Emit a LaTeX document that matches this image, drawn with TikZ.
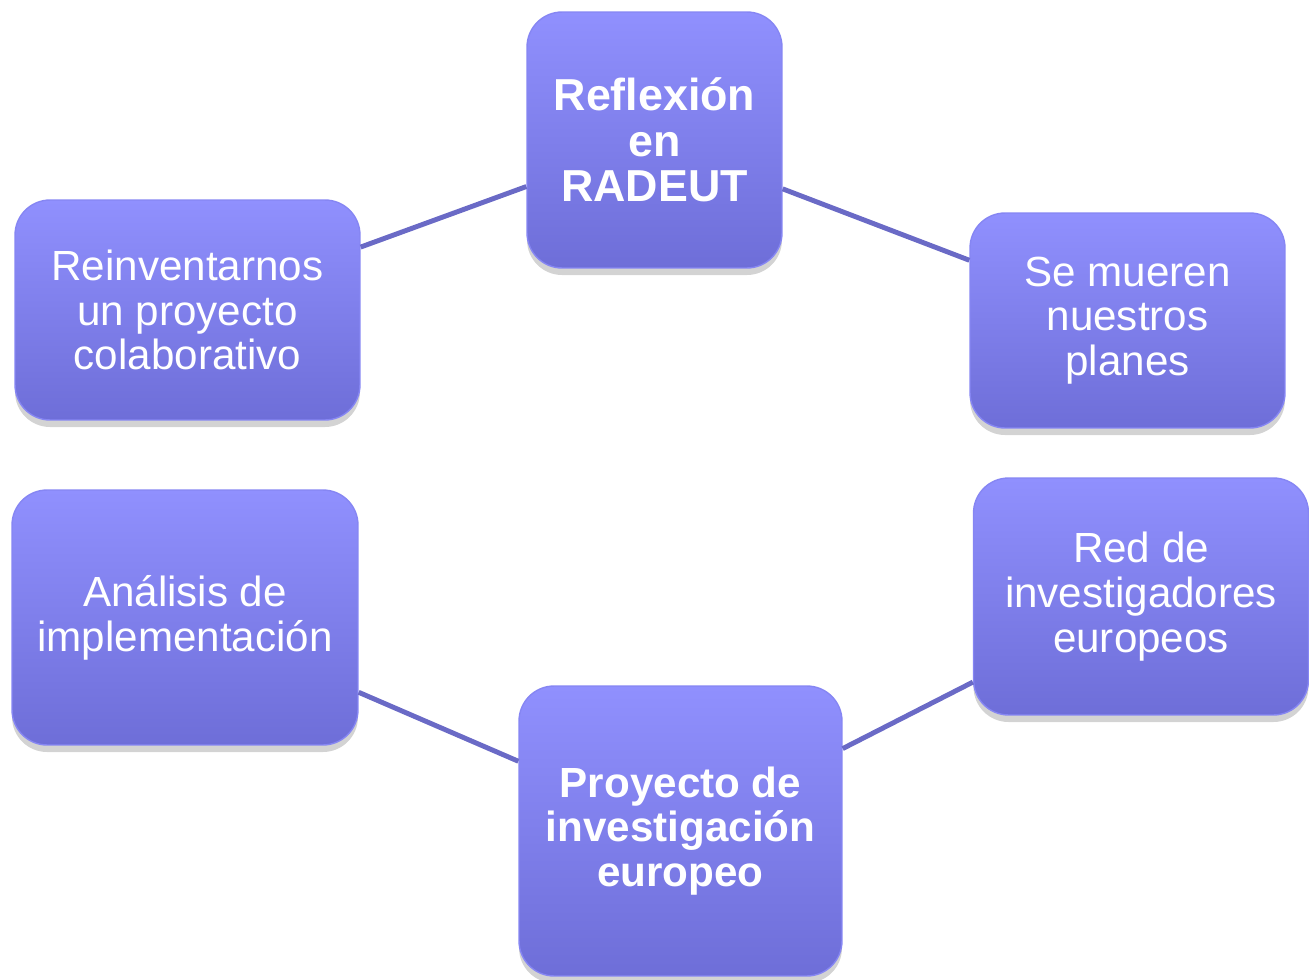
\documentclass[tikz,border=0pt]{standalone}
\usepackage{fontspec}
\setmainfont{Liberation Sans}
\usepackage{tikz}
\usetikzlibrary{shapes,positioning,shadows}

\definecolor{blocktop}{HTML}{9090FE}
\definecolor{blockbot}{HTML}{6E6ED8}
\definecolor{linkline}{HTML}{6A6AC6}

\tikzset{
    block/.style={
        rounded corners=0.7cm,
        top color=blocktop,
        bottom color=blockbot,
        draw=blocktop!70!blockbot,
        line width=0.8pt,
        text=white,
        align=center,
        font=\fontsize{24}{25.5}\selectfont,
        drop shadow={opacity=0.35,shadow xshift=0pt,shadow yshift=-4pt}
    },
    key block/.style={
        block,
        font=\fontsize{25.5}{26}\selectfont\bfseries
    },
    link/.style={linkline,line width=2.8pt}
}

\begin{document}
\begin{tikzpicture}[x=0.02cm,y=-0.02cm]

\useasboundingbox (0,0) rectangle (1309,980);

\node[key block,
    minimum width=5.1cm,
    minimum height=5.12cm
] (block1) at (654.5,140) { Reflexión\\en\\RADEUT };

\node[block,
    minimum width=6.9cm,
    minimum height=4.4cm
] (block2) at (187.5,310) { Reinventarnos\\un proyecto\\colaborativo };

\node[block,
    minimum width=6.3cm,
    minimum height=4.3cm
] (block3) at (1127.5,320.5) { Se mueren\\nuestros\\planes };

\node[block,
    minimum width=6.92cm,
    minimum height=5.1cm
] (block4) at (185,617.5) { Análisis de\\implementación };

\node[block,
    minimum width=6.7cm,
    minimum height=4.74cm
] (block5) at (1141,596.5) { Red de\\investigadores\\europeos };

\node[key block,
    font=\fontsize{24}{25.5}\selectfont\bfseries,
    minimum width=6.46cm,
    minimum height=5.8cm
] (block6) at (680.5,831) { Proyecto de\\investigación\\europeo };

\draw[link] (block2) -- (block1);
\draw[link] (block1) -- (block3);
\draw[link] (block4) -- (block6);
\draw[link] (block6) -- (block5);

\end{tikzpicture}
\end{document}
